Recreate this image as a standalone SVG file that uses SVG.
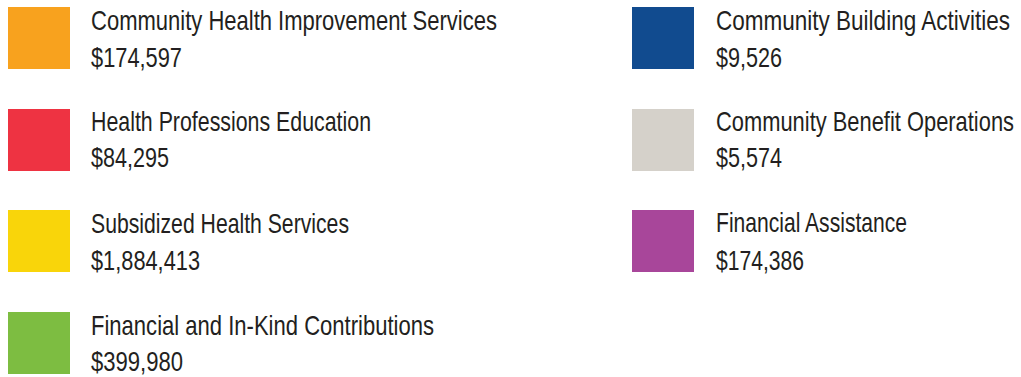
<svg xmlns="http://www.w3.org/2000/svg" width="1021" height="377" viewBox="0 0 1021 377">
<style>
text{font-family:"Liberation Sans Narrow","Liberation Sans",Arial,sans-serif;font-size:28px;fill:#231f20}
</style>
<rect width="1021" height="377" fill="#ffffff"/>
<g id="chis"><rect x="8" y="7" width="62" height="62" fill="#f8a21e"/><text x="91" y="30" textLength="406" lengthAdjust="spacingAndGlyphs">Community Health Improvement Services</text><text x="91" y="67" textLength="91" lengthAdjust="spacingAndGlyphs">$174,597</text></g>
<g id="hpe"><rect x="8" y="109" width="62" height="62" fill="#ee3342"/><text x="91" y="131" textLength="280" lengthAdjust="spacingAndGlyphs">Health Professions Education</text><text x="91" y="167" textLength="78" lengthAdjust="spacingAndGlyphs">$84,295</text></g>
<g id="shs"><rect x="8" y="210" width="62" height="62" fill="#f9d50a"/><text x="91" y="233" textLength="258" lengthAdjust="spacingAndGlyphs">Subsidized Health Services</text><text x="91" y="270" textLength="109" lengthAdjust="spacingAndGlyphs">$1,884,413</text></g>
<g id="fikc"><rect x="8" y="312" width="62" height="62" fill="#7dbd41"/><text x="91" y="335" textLength="343" lengthAdjust="spacingAndGlyphs">Financial and In-Kind Contributions</text><text x="91" y="371" textLength="92" lengthAdjust="spacingAndGlyphs">$399,980</text></g>
<g id="cba"><rect x="632" y="7" width="62" height="62" fill="#114b8f"/><text x="716" y="30" textLength="294" lengthAdjust="spacingAndGlyphs">Community Building Activities</text><text x="716" y="67" textLength="66" lengthAdjust="spacingAndGlyphs">$9,526</text></g>
<g id="cbo"><rect x="632" y="109" width="62" height="62" fill="#d5d1ca"/><text x="716" y="131" textLength="298" lengthAdjust="spacingAndGlyphs">Community Benefit Operations</text><text x="716" y="167" textLength="66" lengthAdjust="spacingAndGlyphs">$5,574</text></g>
<g id="fa"><rect x="632" y="210" width="62" height="62" fill="#a8469a"/><text x="716" y="232" textLength="191" lengthAdjust="spacingAndGlyphs">Financial Assistance</text><text x="716" y="270" textLength="88" lengthAdjust="spacingAndGlyphs">$174,386</text></g>
<g id="connectors"/>
</svg>
